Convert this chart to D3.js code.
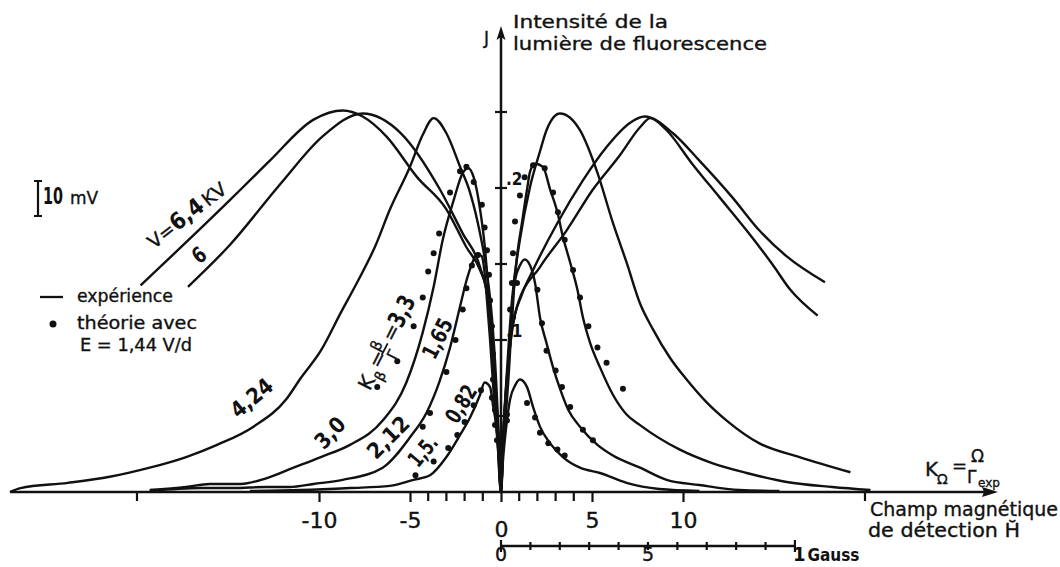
<!DOCTYPE html>
<html>
<head>
<meta charset="utf-8">
<script src="https://cdn.jsdelivr.net/npm/d3@7"></script>
<style>
  body { margin: 0; background: #fff; }
  svg { display: block; }
  text { font-family: "DejaVu Sans", sans-serif; fill: #111; stroke: #111; stroke-width: 0.35px; }
  .num { font-family: "Liberation Sans Narrow", "DejaVu Sans Condensed", sans-serif; font-weight: bold; stroke-width: 0; }
</style>
</head>
<body>
<svg id="chart" width="1060" height="567"></svg>
<script>
// ---- data (H in field units, J in signal units) ----
// experiment, V = 6.4 kV and V = 6 kV (broad curves)
var curveV64 = [[-19.8,0.136],[-14.9,0.192],[-13.8,0.205],[-12.7,0.218],[-10.3,0.245],[-8.7,0.251],[-7.6,0.247],[-6.3,0.234],[-4.6,0.207],[-3.0,0.186],[-1.9,0.161],[-1.15,0.146],[-0.77,0.131],[-0.5,0.1],[-0.27,0.061],[-0.11,0.028],[0,0],[0.11,0.034],[0.33,0.074],[0.6,0.107],[1.15,0.130],[1.76,0.146],[3.1,0.177],[4.5,0.205],[5.8,0.227],[7.1,0.243],[7.9,0.247],[9.45,0.236],[10.9,0.218],[12.7,0.194],[14.2,0.172],[15.7,0.155],[17.8,0.138]];
var curveV6 = [[-17.2,0.135],[-14.9,0.1625],[-12.1,0.203],[-9.8,0.234],[-7.6,0.249],[-5.5,0.236],[-3.4,0.200],[-2.1,0.170],[-1.15,0.148],[-0.71,0.126],[-0.44,0.093],[-0.22,0.054],[0,0],[0.11,0.031],[0.27,0.067],[0.5,0.096],[0.88,0.122],[2.14,0.148],[3.6,0.172],[5.05,0.199],[6.5,0.221],[7.64,0.240],[8.2,0.246],[9.1,0.238],[10.5,0.216],[12.0,0.194],[13.5,0.172],[14.9,0.150],[15.9,0.133],[17.4,0.116]];

// experiment, K_beta curves
var curve424 = [[-26.98,0],[-26.4,0.0026],[-23.8,0.006],[-21.5,0.010],[-19.3,0.016],[-17.3,0.023],[-15.6,0.031],[-13.6,0.043],[-11.8,0.061],[-11.0,0.075],[-9.9,0.093],[-8.8,0.118],[-7.9,0.138],[-6.9,0.162],[-6.1,0.186],[-5.0,0.214],[-4.3,0.235],[-3.7,0.246],[-3.0,0.236],[-2.25,0.214],[-1.7,0.197],[-1.15,0.170],[-0.77,0.144],[-0.5,0.115],[-0.27,0.074],[-0.11,0.034],[0,0],[0.11,0.034],[0.33,0.080],[0.6,0.126],[1.04,0.166],[1.6,0.201],[2.14,0.224],[2.5,0.238],[3.24,0.249],[4.34,0.238],[5.3,0.210],[6.15,0.177],[6.9,0.151],[7.64,0.124],[8.35,0.107],[9.3,0.088],[10.2,0.074],[11.3,0.059],[12.4,0.047],[14.2,0.032],[16.4,0.023],[19.2,0.013]];
var curve30 = [[-19.3,0.0013],[-17.3,0.0033],[-16.0,0.0053],[-14.3,0.0053],[-12.9,0.009],[-11.4,0.016],[-9.9,0.023],[-8.3,0.031],[-6.5,0.047],[-5.2,0.072],[-4.3,0.105],[-3.7,0.135],[-3.2,0.166],[-2.6,0.192],[-2.1,0.210],[-1.8,0.213],[-1.5,0.207],[-1.15,0.186],[-0.9,0.1625],[-0.71,0.135],[-0.6,0.115],[-0.38,0.074],[-0.22,0.041],[0,0],[0.11,0.034],[0.33,0.074],[0.6,0.111],[0.71,0.133],[0.88,0.155],[1.15,0.177],[1.43,0.199],[1.6,0.211],[1.87,0.216],[2.3,0.214],[2.7,0.199],[3.1,0.184],[3.4,0.168],[3.8,0.151],[4.2,0.133],[4.5,0.115],[4.9,0.098],[5.44,0.082],[6.15,0.064],[6.9,0.051],[7.64,0.044],[9.8,0.028],[11.6,0.019],[13.5,0.0125],[15.7,0.0066],[18.2,0.0033],[20.3,0.0013]];
var curve212 = [[-19.3,0.0007],[-16.5,0.0026],[-14.7,0.0026],[-12.9,0.0033],[-11.6,0.0033],[-10.3,0.0053],[-8.7,0.008],[-6.5,0.016],[-5.0,0.036],[-4.1,0.052],[-3.4,0.072],[-2.8,0.095],[-2.25,0.122],[-1.9,0.139],[-1.5,0.153],[-1.3,0.157],[-1.05,0.155],[-0.9,0.144],[-0.77,0.126],[-0.6,0.1],[-0.38,0.061],[-0.16,0.028],[0,0],[0.11,0.028],[0.33,0.061],[0.5,0.093],[0.6,0.12],[0.77,0.139],[1.04,0.149],[1.3,0.153],[1.6,0.149],[1.87,0.1375],[2.14,0.115],[2.5,0.098],[2.86,0.082],[3.24,0.068],[3.7,0.054],[4.34,0.043],[5.3,0.031],[6.15,0.024],[7.64,0.016],[9.1,0.008],[10.9,0.0046],[13.1,0.0013],[15.3,0.0007]];
var curve15 = [[-13.8,0.0007],[-11.0,0.0013],[-8.3,0.0026],[-6.1,0.004],[-4.8,0.008],[-3.9,0.011],[-3.0,0.023],[-2.25,0.0375],[-1.7,0.049],[-1.15,0.064],[-0.9,0.072],[-0.6,0.069],[-0.44,0.057],[-0.22,0.039],[-0.11,0.021],[0,0],[0.11,0.021],[0.27,0.041],[0.5,0.061],[0.77,0.070],[1.04,0.074],[1.43,0.069],[1.76,0.056],[2.14,0.043],[2.7,0.032],[3.4,0.023],[4.34,0.016],[5.44,0.0125],[6.9,0.006],[8.7,0.002],[10.9,0.0007]];

// theory points (E = 1.44 V/d)
var dots33 = [[-6.8,0.069],[-5.7,0.086],[-4.8,0.109],[-4.3,0.128],[-4.0,0.145],[-3.7,0.157],[-3.4,0.170],[-2.8,0.197],[-2.25,0.211],[-1.9,0.214],[-1.5,0.204],[-1.05,0.189],[-0.9,0.174],[-0.77,0.159],[-0.66,0.143],[-0.6,0.126],[-0.5,0.109],[-0.44,0.091],[0.5,0.12],[0.6,0.1375],[0.66,0.157],[0.77,0.178],[1.04,0.195],[1.3,0.207],[1.76,0.215],[2.4,0.213],[2.86,0.197],[3.13,0.184],[3.5,0.166],[3.96,0.146],[4.34,0.128],[4.8,0.109],[5.3,0.095],[5.8,0.085],[6.7,0.068]];
var dots165 = [[-4.3,0.043],[-3.9,0.052],[-3.0,0.079],[-2.5,0.1],[-2.1,0.12],[-1.9,0.134],[-1.6,0.149],[-1.26,0.156],[-0.44,0.074],[-0.33,0.054],[-0.22,0.034],[0.33,0.047],[0.66,0.115],[0.88,0.1375],[2.0,0.133],[2.25,0.111],[2.5,0.093],[3.0,0.080],[3.35,0.069],[3.8,0.056],[4.5,0.041],[5.05,0.034]];
var dots082 = [[-4.7,0.011],[-3.7,0.020],[-2.9,0.029],[-2.4,0.0375],[-2.0,0.046],[-1.5,0.057],[-1.1,0.067],[-0.5,0.062],[-0.33,0.044],[0.33,0.051],[1.43,0.0585],[1.87,0.049],[2.14,0.039],[2.6,0.032],[3.1,0.028],[3.5,0.024]];

// ticks
var xMajorTicks = [-10, -5, 0, 5, 10];
var xMinorTicks = [-20, -4, -3, -2, -1, 1, 2, 3, 4, 20];
var yTicks = [0.05, 0.1, 0.15, 0.2, 0.25];
var yTickLabels = [".1", ".2"];
var yTickLabelValues = [0.1, 0.2];
var gaussTicks = [0, 0.1, 0.2, 0.3, 0.4, 0.5, 0.6, 0.7, 0.8, 0.9, 1];
var gaussLabelValues = [0, 0.5];
var gaussLabels = ["0", "5"];

// curve labels: text, H, J, angle, length
var curveLabels = [
  ["4,24", -13.7, 0.062, -40, 48],
  ["3,0", -9.4, 0.039, -47, 34],
  ["2,12", -6.2, 0.036, -45, 50],
  ["1,5.", -4.3, 0.027, -50, 33],
  ["0,82", -2.2, 0.058, -58, 40],
  ["1,65", -3.5, 0.101, -63, 42],
  ["6", -16.6, 0.156, -38, 12]
];

var svg = d3.select("#chart");

var x = d3.scaleLinear().domain([0, 10]).range([501, 683]);
var y = d3.scaleLinear().domain([0, 0.25]).range([492, 112]);
var g = d3.scaleLinear().domain([0, 1]).range([x(0), x(16.15)]);

var ink = "#111";

// ---- axes ----
svg.append("line")
  .attr("x1", 10).attr("x2", 986).attr("y1", y(0)).attr("y2", y(0))
  .attr("stroke", ink).attr("stroke-width", 2.5);
svg.append("path")
  .attr("d", "M998," + y(0) + "L982," + (y(0) - 5) + "L984," + y(0) + "L982," + (y(0) + 5) + "Z")
  .attr("fill", ink);

svg.append("line")
  .attr("x1", x(0)).attr("x2", x(0)).attr("y1", y(0)).attr("y2", 36)
  .attr("stroke", ink).attr("stroke-width", 2.5);
svg.append("path")
  .attr("d", "M" + x(0) + ",26L" + (x(0) - 4.5) + ",40L" + x(0) + ",37L" + (x(0) + 4.5) + ",40Z")
  .attr("fill", ink);

var xAxis = svg.append("g")
  .attr("transform", "translate(0," + y(0) + ")")
  .call(d3.axisBottom(x).tickValues(xMajorTicks).tickSize(10).tickFormat(function(d){ return String(d); }));
xAxis.select(".domain").remove();
xAxis.selectAll(".tick line").attr("stroke", ink).attr("stroke-width", 2.2);
xAxis.selectAll(".tick text")
  .attr("y", function(d){ return d === 0 ? 45 : 36; })
  .attr("dy", 0)
  .style("font-family", "'DejaVu Sans', sans-serif")
  .style("font-size", "22px")
  .attr("fill", ink);

svg.append("g").selectAll("line")
  .data(xMinorTicks)
  .enter().append("line")
  .attr("x1", function(d){ return x(d); }).attr("x2", function(d){ return x(d); })
  .attr("y1", y(0)).attr("y2", y(0) + 9)
  .attr("stroke", ink).attr("stroke-width", 2.2);

// y ticks crossing the axis
svg.append("g").selectAll("line")
  .data(yTicks)
  .enter().append("line")
  .attr("x1", x(0) - 6).attr("x2", x(0) + 6)
  .attr("y1", function(d){ return y(d); }).attr("y2", function(d){ return y(d); })
  .attr("stroke", ink).attr("stroke-width", 2.2);
svg.append("g").selectAll("text")
  .data(yTickLabelValues)
  .enter().append("text")
  .attr("x", x(0) + 5)
  .attr("y", function(d){ return y(d) - 3; })
  .attr("class", "num")
  .style("font-size", "17px")
  .text(function(d, i){ return yTickLabels[i]; });

// gauss scale below
var gy = 546;
svg.append("line")
  .attr("x1", g(0)).attr("x2", g(1)).attr("y1", gy).attr("y2", gy)
  .attr("stroke", ink).attr("stroke-width", 2.5);
svg.append("g").selectAll("line")
  .data(gaussTicks)
  .enter().append("line")
  .attr("x1", function(d){ return g(d); }).attr("x2", function(d){ return g(d); })
  .attr("y1", function(d){ return (d === 0 || d === 1) ? gy - 6 : gy - 4; })
  .attr("y2", function(d){ return (d === 0 || d === 1) ? gy + 6 : gy + 4; })
  .attr("stroke", ink).attr("stroke-width", 2.2);
svg.append("g").selectAll("text")
  .data(gaussLabelValues)
  .enter().append("text")
  .attr("x", function(d){ return g(d); })
  .attr("y", 561)
  .attr("text-anchor", "middle")
  .style("font-size", "19px")
  .text(function(d, i){ return gaussLabels[i]; });
var gaussText = svg.append("text").attr("x", g(1) - 2).attr("y", 561);
gaussText.append("tspan").attr("class", "num").style("font-size", "20px").text("1");
gaussText.append("tspan").attr("class", "num").attr("dx", 2).style("font-size", "17px").text("Gauss");

// ---- curves ----
var line = d3.line()
  .x(function(d){ return x(d[0]); })
  .y(function(d){ return y(d[1]); })
  .curve(d3.curveMonotoneX);

[curveV64, curveV6, curve424, curve30, curve212, curve15].forEach(function(c){
  svg.append("path")
    .datum(c)
    .attr("d", line)
    .attr("fill", "none")
    .attr("stroke", ink)
    .attr("stroke-width", 2.4)
    .attr("stroke-linejoin", "round");
});

[dots33, dots165, dots082].forEach(function(ds){
  svg.append("g").selectAll("circle")
    .data(ds)
    .enter().append("circle")
    .attr("cx", function(d){ return x(d[0]); })
    .attr("cy", function(d){ return y(d[1]); })
    .attr("r", 3)
    .attr("fill", ink);
});

// ---- curve labels ----
curveLabels.forEach(function(l){
  svg.append("text")
    .attr("class", "num")
    .attr("transform", "translate(" + x(l[1]) + "," + y(l[2]) + ") rotate(" + l[3] + ")")
    .attr("text-anchor", "middle")
    .attr("dy", "0.35em")
    .attr("textLength", l[4])
    .attr("lengthAdjust", "spacingAndGlyphs")
    .style("font-size", "22px")
    .text(l[0]);
});

// V = 6,4 KV
var vl = svg.append("text")
  .attr("transform", "translate(" + x(-17.25) + "," + y(0.182) + ") rotate(-38)")
  .attr("text-anchor", "middle")
  .attr("dy", "0.35em")
  .style("font-size", "19px");
vl.append("tspan").text("V=");
vl.append("tspan").attr("class", "num").style("font-size", "23px").text("6,4");
vl.append("tspan").attr("dx", 3).text("KV");

// K_beta = beta / Gamma = 3,3
var kb = svg.append("g")
  .attr("transform", "translate(" + x(-6.3) + "," + y(0.099) + ") rotate(-63) translate(-52,8)");
kb.append("text").attr("x", 0).attr("y", 0).style("font-size", "20px").text("K");
kb.append("text").attr("x", 14).attr("y", 7).style("font-size", "14px").text("β");
kb.append("text").attr("x", 24).attr("y", -1).style("font-size", "20px").text("=");
kb.append("text").attr("x", 39).attr("y", -10).style("font-size", "15px").text("β");
kb.append("line").attr("x1", 38).attr("x2", 51).attr("y1", -6).attr("y2", -6).attr("stroke", ink).attr("stroke-width", 1.8);
kb.append("text").attr("x", 39).attr("y", 9).style("font-size", "15px").text("Γ");
kb.append("text").attr("x", 54).attr("y", -1).style("font-size", "20px").text("=");
kb.append("text").attr("x", 70).attr("y", 0).attr("class", "num")
  .attr("textLength", 32).attr("lengthAdjust", "spacingAndGlyphs")
  .style("font-size", "24px").text("3,3");

// ---- annotations ----
svg.append("text").attr("x", 484).attr("y", 44).style("font-size", "17px").text("J");
svg.append("text").attr("x", 513).attr("y", 28).style("font-size", "18px")
  .attr("textLength", 155).attr("lengthAdjust", "spacingAndGlyphs").text("Intensité de la");
svg.append("text").attr("x", 513).attr("y", 50).style("font-size", "18px")
  .attr("textLength", 254).attr("lengthAdjust", "spacingAndGlyphs").text("lumière de fluorescence");

svg.append("text").attr("x", 870).attr("y", 516).style("font-size", "19px")
  .attr("textLength", 188).attr("lengthAdjust", "spacingAndGlyphs").text("Champ magnétique");
svg.append("text").attr("x", 868).attr("y", 537).style("font-size", "19px")
  .attr("textLength", 152).attr("lengthAdjust", "spacingAndGlyphs").text("de détection H\u0306");

// K_Omega = Omega / Gamma_exp
svg.append("text").attr("x", 925).attr("y", 476).style("font-size", "20px").text("K");
svg.append("text").attr("x", 937).attr("y", 484).style("font-size", "14px").text("Ω");
svg.append("text").attr("x", 952).attr("y", 472).style("font-size", "18px").text("=");
svg.append("text").attr("x", 971).attr("y", 462).style("font-size", "17px").text("Ω");
svg.append("text").attr("x", 967).attr("y", 483).style("font-size", "17px").text("Γ");
svg.append("text").attr("x", 978).attr("y", 487).style("font-size", "12px").text("exp");

// 10 mV scale bar
svg.append("path")
  .attr("d", "M34,181H42M38,181V216M34,216H42")
  .attr("fill", "none").attr("stroke", ink).attr("stroke-width", 2.2);
svg.append("text").attr("x", 43).attr("y", 204).attr("class", "num")
  .attr("textLength", 20).attr("lengthAdjust", "spacingAndGlyphs")
  .style("font-size", "23px").text("10");
svg.append("text").attr("x", 70).attr("y", 204).style("font-size", "17px").text("mV");

// legend
svg.append("line").attr("x1", 40).attr("x2", 63).attr("y1", 297).attr("y2", 297)
  .attr("stroke", ink).attr("stroke-width", 2.3);
svg.append("text").attr("x", 77).attr("y", 302).style("font-size", "17px")
  .attr("textLength", 96).attr("lengthAdjust", "spacingAndGlyphs").text("expérience");
svg.append("circle").attr("cx", 53).attr("cy", 324).attr("r", 3.5).attr("fill", ink);
svg.append("text").attr("x", 77).attr("y", 329).style("font-size", "17px")
  .attr("textLength", 120).attr("lengthAdjust", "spacingAndGlyphs").text("théorie avec");
svg.append("text").attr("x", 80).attr("y", 351).style("font-size", "17px")
  .attr("textLength", 112).attr("lengthAdjust", "spacingAndGlyphs").text("E = 1,44 V/d");
</script>
</body>
</html>
